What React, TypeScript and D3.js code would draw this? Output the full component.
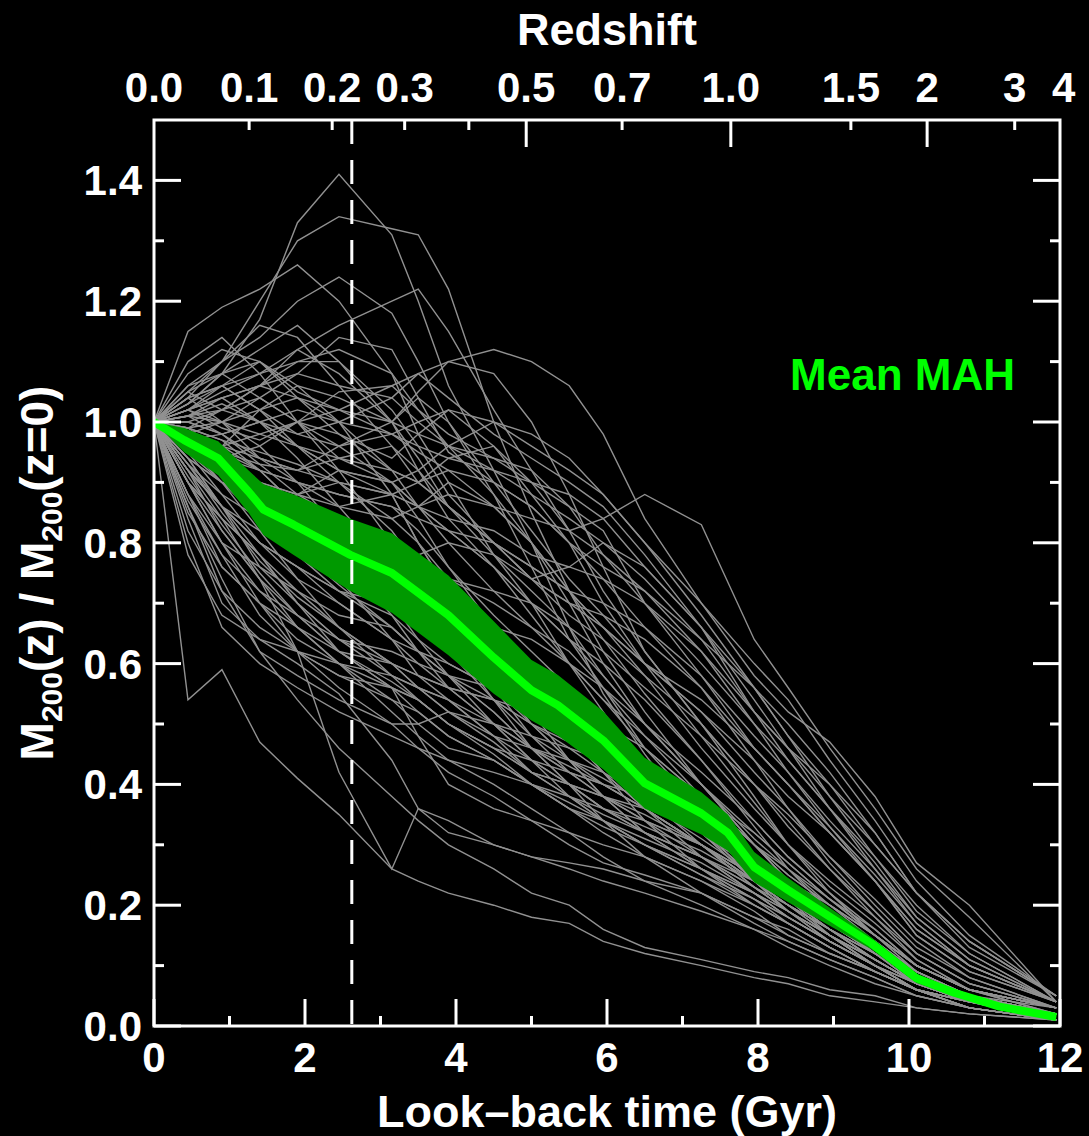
import React, { useEffect } from "react";
import * as d3 from "d3";

// ---------------- data ----------------
// snapshot look-back times (Gyr) shared by the individual halo histories
const snapTimes = [0, 0.45, 0.9, 1.4, 1.9, 2.45, 3.15, 3.5, 3.9, 4.5, 5.0, 5.5, 5.95, 6.5, 7.25, 7.95, 8.4, 8.95, 9.55, 10.1, 10.8, 11.95];

// individual mass accretion histories M200(z)/M200(z=0)
const haloHistories: number[][] = [
  [1.00, 1.03, 1.08, 1.17, 1.33, 1.41, 1.31, 1.20, 1.06, 0.92, 0.80, 0.66, 0.55, 0.45, 0.33, 0.24, 0.19, 0.14, 0.10, 0.07, 0.04, 0.02],
  [1.00, 1.04, 1.10, 1.20, 1.30, 1.34, 1.32, 1.31, 1.22, 1.00, 0.85, 0.72, 0.62, 0.52, 0.40, 0.30, 0.24, 0.18, 0.13, 0.08, 0.05, 0.03],
  [1.00, 1.15, 1.19, 1.22, 1.26, 1.20, 1.08, 0.98, 0.90, 0.78, 0.70, 0.60, 0.52, 0.42, 0.32, 0.24, 0.19, 0.14, 0.10, 0.06, 0.04, 0.02],
  [1.00, 1.06, 1.10, 1.14, 1.20, 1.24, 1.18, 1.10, 1.00, 0.88, 0.76, 0.64, 0.56, 0.46, 0.36, 0.27, 0.21, 0.15, 0.10, 0.07, 0.04, 0.02],
  [1.00, 1.02, 1.05, 1.08, 1.12, 1.16, 1.20, 1.22, 1.15, 1.02, 0.92, 0.82, 0.72, 0.62, 0.50, 0.38, 0.30, 0.22, 0.15, 0.10, 0.06, 0.03],
  [1.00, 1.01, 1.03, 1.00, 0.98, 1.00, 1.04, 1.08, 1.10, 1.12, 1.10, 1.06, 0.98, 0.84, 0.70, 0.58, 0.52, 0.47, 0.38, 0.27, 0.20, 0.04],
  [1.00, 0.97, 0.95, 0.93, 0.92, 0.90, 0.88, 0.86, 0.88, 0.86, 0.84, 0.82, 0.84, 0.88, 0.83, 0.64, 0.56, 0.46, 0.36, 0.26, 0.18, 0.04],
  [1.00, 1.08, 1.12, 1.10, 1.05, 1.02, 0.98, 0.95, 0.92, 0.86, 0.80, 0.72, 0.64, 0.55, 0.44, 0.33, 0.26, 0.19, 0.13, 0.08, 0.05, 0.02],
  [1.00, 1.05, 1.02, 1.06, 1.12, 1.08, 1.00, 1.05, 1.10, 1.08, 1.00, 0.88, 0.76, 0.62, 0.50, 0.40, 0.33, 0.26, 0.19, 0.12, 0.07, 0.03],
  [1.00, 0.98, 1.00, 1.04, 1.08, 1.14, 1.12, 1.04, 0.95, 0.90, 0.86, 0.80, 0.74, 0.66, 0.56, 0.44, 0.36, 0.27, 0.19, 0.12, 0.07, 0.03],
  [1.00, 1.02, 0.99, 0.97, 1.00, 1.05, 1.06, 1.02, 0.98, 0.94, 0.90, 0.86, 0.82, 0.70, 0.58, 0.46, 0.40, 0.32, 0.24, 0.16, 0.10, 0.04],
  [1.00, 1.10, 1.14, 1.08, 1.00, 0.94, 0.90, 0.86, 0.82, 0.76, 0.70, 0.64, 0.58, 0.50, 0.40, 0.30, 0.24, 0.18, 0.12, 0.08, 0.05, 0.02],
  [1.00, 1.03, 1.06, 1.10, 1.04, 0.98, 0.94, 0.98, 1.02, 0.96, 0.88, 0.80, 0.70, 0.60, 0.48, 0.37, 0.30, 0.23, 0.17, 0.11, 0.06, 0.03],
  [1.00, 0.96, 0.94, 0.96, 1.00, 0.98, 0.92, 0.90, 0.94, 0.96, 0.90, 0.82, 0.78, 0.72, 0.62, 0.50, 0.42, 0.33, 0.24, 0.15, 0.09, 0.04],
  [1.00, 1.01, 1.04, 1.06, 1.10, 1.10, 1.02, 0.96, 0.88, 0.80, 0.74, 0.70, 0.66, 0.60, 0.52, 0.42, 0.36, 0.28, 0.20, 0.13, 0.08, 0.03],
  [1.00, 0.98, 0.96, 1.02, 1.06, 1.04, 1.00, 0.94, 0.86, 0.78, 0.74, 0.76, 0.80, 0.76, 0.66, 0.54, 0.46, 0.36, 0.26, 0.17, 0.10, 0.04],
  [1.00, 1.04, 1.00, 0.94, 0.92, 0.96, 1.00, 1.04, 1.00, 0.90, 0.82, 0.74, 0.68, 0.60, 0.52, 0.44, 0.38, 0.32, 0.24, 0.16, 0.10, 0.04],
  [1.00, 0.95, 0.90, 0.86, 0.84, 0.82, 0.78, 0.74, 0.70, 0.64, 0.58, 0.52, 0.46, 0.40, 0.32, 0.24, 0.20, 0.15, 0.10, 0.06, 0.04, 0.02],
  [1.00, 0.97, 0.94, 0.92, 0.90, 0.88, 0.86, 0.82, 0.76, 0.68, 0.62, 0.56, 0.50, 0.44, 0.36, 0.28, 0.22, 0.17, 0.12, 0.07, 0.04, 0.02],
  [1.00, 0.93, 0.88, 0.84, 0.88, 0.92, 0.90, 0.86, 0.82, 0.76, 0.70, 0.64, 0.60, 0.54, 0.44, 0.34, 0.28, 0.22, 0.15, 0.09, 0.05, 0.02],
  [1.00, 0.98, 0.96, 0.94, 0.92, 0.94, 0.96, 0.92, 0.86, 0.80, 0.74, 0.68, 0.64, 0.58, 0.50, 0.40, 0.34, 0.26, 0.18, 0.11, 0.06, 0.03],
  [1.00, 0.94, 0.90, 0.88, 0.86, 0.84, 0.80, 0.78, 0.80, 0.78, 0.72, 0.66, 0.58, 0.50, 0.42, 0.34, 0.28, 0.22, 0.16, 0.10, 0.06, 0.03],
  [1.00, 0.96, 0.92, 0.90, 0.88, 0.90, 0.84, 0.80, 0.74, 0.70, 0.66, 0.62, 0.56, 0.48, 0.38, 0.28, 0.24, 0.18, 0.13, 0.08, 0.05, 0.02],
  [1.00, 1.00, 0.98, 0.94, 0.90, 0.86, 0.84, 0.86, 0.90, 0.86, 0.80, 0.72, 0.66, 0.58, 0.46, 0.36, 0.30, 0.24, 0.18, 0.12, 0.07, 0.03],
  [1.00, 0.92, 0.86, 0.82, 0.80, 0.76, 0.72, 0.70, 0.68, 0.66, 0.64, 0.60, 0.54, 0.46, 0.38, 0.30, 0.24, 0.18, 0.12, 0.07, 0.04, 0.02],
  [1.00, 0.54, 0.59, 0.47, 0.41, 0.35, 0.26, 0.24, 0.22, 0.20, 0.18, 0.17, 0.14, 0.12, 0.10, 0.08, 0.07, 0.05, 0.04, 0.03, 0.02, 0.01],
  [1.00, 0.80, 0.66, 0.60, 0.56, 0.52, 0.48, 0.46, 0.44, 0.40, 0.36, 0.32, 0.28, 0.24, 0.20, 0.16, 0.13, 0.10, 0.07, 0.05, 0.03, 0.01],
  [1.00, 0.86, 0.72, 0.62, 0.58, 0.54, 0.50, 0.50, 0.52, 0.50, 0.46, 0.40, 0.34, 0.28, 0.22, 0.17, 0.14, 0.11, 0.08, 0.05, 0.03, 0.01],
  [1.00, 0.88, 0.78, 0.68, 0.62, 0.58, 0.56, 0.54, 0.50, 0.46, 0.42, 0.38, 0.34, 0.30, 0.25, 0.20, 0.17, 0.13, 0.09, 0.06, 0.03, 0.01],
  [1.00, 0.90, 0.80, 0.72, 0.66, 0.62, 0.60, 0.58, 0.56, 0.54, 0.50, 0.44, 0.38, 0.32, 0.26, 0.21, 0.17, 0.13, 0.09, 0.06, 0.04, 0.02],
  [1.00, 0.84, 0.70, 0.64, 0.60, 0.55, 0.44, 0.36, 0.32, 0.30, 0.28, 0.27, 0.26, 0.24, 0.22, 0.18, 0.16, 0.12, 0.09, 0.06, 0.03, 0.01],
  [1.00, 0.92, 0.82, 0.74, 0.66, 0.60, 0.54, 0.50, 0.46, 0.44, 0.40, 0.38, 0.36, 0.34, 0.30, 0.25, 0.21, 0.16, 0.11, 0.07, 0.04, 0.02],
  [1.00, 0.90, 0.84, 0.78, 0.70, 0.64, 0.58, 0.56, 0.54, 0.48, 0.42, 0.40, 0.38, 0.36, 0.30, 0.24, 0.20, 0.15, 0.10, 0.06, 0.04, 0.02],
  [1.00, 0.94, 0.86, 0.76, 0.72, 0.68, 0.66, 0.62, 0.58, 0.52, 0.46, 0.42, 0.40, 0.36, 0.30, 0.24, 0.20, 0.16, 0.11, 0.07, 0.04, 0.02],
  [1.00, 0.88, 0.76, 0.70, 0.66, 0.60, 0.52, 0.48, 0.44, 0.42, 0.40, 0.36, 0.32, 0.28, 0.24, 0.19, 0.15, 0.12, 0.09, 0.06, 0.03, 0.01],
  [1.00, 0.95, 0.88, 0.80, 0.74, 0.70, 0.64, 0.62, 0.60, 0.56, 0.52, 0.48, 0.44, 0.40, 0.34, 0.27, 0.22, 0.17, 0.12, 0.08, 0.05, 0.02],
  [1.00, 0.93, 0.86, 0.80, 0.76, 0.72, 0.70, 0.68, 0.64, 0.58, 0.54, 0.50, 0.44, 0.38, 0.30, 0.23, 0.19, 0.15, 0.11, 0.07, 0.04, 0.02],
  [1.00, 0.90, 0.82, 0.74, 0.68, 0.62, 0.56, 0.48, 0.40, 0.36, 0.34, 0.32, 0.30, 0.28, 0.24, 0.20, 0.17, 0.13, 0.09, 0.06, 0.03, 0.01],
  [1.00, 0.86, 0.74, 0.62, 0.54, 0.46, 0.38, 0.34, 0.30, 0.26, 0.22, 0.20, 0.16, 0.13, 0.11, 0.09, 0.08, 0.06, 0.05, 0.03, 0.02, 0.01],
  [1.00, 0.92, 0.84, 0.74, 0.62, 0.42, 0.26, 0.36, 0.34, 0.30, 0.28, 0.26, 0.24, 0.22, 0.19, 0.16, 0.14, 0.11, 0.08, 0.05, 0.03, 0.01],
  [1.00, 0.96, 0.90, 0.84, 0.78, 0.72, 0.66, 0.62, 0.58, 0.52, 0.46, 0.42, 0.38, 0.34, 0.28, 0.22, 0.18, 0.14, 0.10, 0.06, 0.04, 0.02],
  [1.00, 0.98, 0.94, 0.88, 0.82, 0.76, 0.70, 0.66, 0.62, 0.56, 0.50, 0.44, 0.40, 0.36, 0.30, 0.24, 0.20, 0.16, 0.12, 0.08, 0.05, 0.02],
  [1.00, 0.99, 0.97, 0.92, 0.86, 0.80, 0.74, 0.68, 0.62, 0.54, 0.48, 0.44, 0.42, 0.38, 0.32, 0.26, 0.22, 0.18, 0.14, 0.09, 0.05, 0.02],
  [1.00, 1.02, 1.00, 0.96, 0.90, 0.82, 0.74, 0.70, 0.66, 0.60, 0.54, 0.48, 0.44, 0.40, 0.34, 0.28, 0.24, 0.19, 0.14, 0.09, 0.05, 0.02],
  [1.00, 1.04, 1.06, 1.02, 0.96, 0.90, 0.82, 0.76, 0.68, 0.58, 0.50, 0.46, 0.42, 0.36, 0.30, 0.24, 0.20, 0.16, 0.12, 0.08, 0.05, 0.02],
  [1.00, 1.06, 1.08, 1.04, 1.00, 0.96, 0.90, 0.84, 0.76, 0.66, 0.56, 0.48, 0.42, 0.34, 0.26, 0.20, 0.17, 0.13, 0.09, 0.06, 0.03, 0.01],
  [1.00, 1.01, 1.02, 1.00, 0.96, 0.92, 0.88, 0.80, 0.72, 0.62, 0.52, 0.44, 0.38, 0.32, 0.26, 0.21, 0.18, 0.14, 0.10, 0.06, 0.04, 0.02],
  [1.00, 0.99, 1.00, 1.02, 1.04, 1.00, 0.92, 0.86, 0.80, 0.72, 0.66, 0.60, 0.56, 0.50, 0.40, 0.30, 0.25, 0.20, 0.15, 0.10, 0.06, 0.03],
  [1.00, 1.03, 1.08, 1.12, 1.16, 1.10, 1.00, 0.92, 0.84, 0.76, 0.68, 0.60, 0.54, 0.48, 0.40, 0.32, 0.27, 0.21, 0.15, 0.10, 0.06, 0.03],
  [1.00, 1.05, 1.10, 1.16, 1.14, 1.06, 0.96, 0.90, 0.86, 0.80, 0.74, 0.70, 0.68, 0.64, 0.56, 0.46, 0.40, 0.32, 0.24, 0.15, 0.09, 0.04],
  [1.00, 1.00, 0.98, 1.00, 1.02, 1.00, 0.98, 0.96, 0.94, 0.92, 0.90, 0.88, 0.84, 0.76, 0.66, 0.56, 0.48, 0.40, 0.30, 0.22, 0.14, 0.05],
  [1.00, 0.98, 0.96, 0.98, 1.00, 1.02, 1.00, 0.98, 0.96, 0.94, 0.92, 0.86, 0.78, 0.70, 0.60, 0.50, 0.44, 0.36, 0.28, 0.20, 0.12, 0.04],
  [1.00, 1.02, 1.04, 1.06, 1.08, 1.06, 1.04, 1.00, 0.96, 0.92, 0.88, 0.84, 0.80, 0.74, 0.64, 0.52, 0.46, 0.40, 0.32, 0.22, 0.13, 0.05],
  [1.00, 0.97, 0.95, 0.92, 0.90, 0.88, 0.86, 0.84, 0.82, 0.80, 0.76, 0.72, 0.70, 0.66, 0.58, 0.48, 0.42, 0.34, 0.26, 0.18, 0.11, 0.04],
  [1.00, 0.99, 0.97, 0.95, 0.93, 0.90, 0.88, 0.86, 0.84, 0.82, 0.78, 0.76, 0.74, 0.70, 0.62, 0.52, 0.46, 0.38, 0.30, 0.22, 0.14, 0.05],
  [1.00, 1.01, 1.00, 0.98, 0.96, 0.94, 0.92, 0.90, 0.86, 0.80, 0.76, 0.72, 0.66, 0.60, 0.54, 0.46, 0.40, 0.33, 0.25, 0.17, 0.10, 0.04],
  [1.00, 0.90, 0.80, 0.70, 0.62, 0.56, 0.50, 0.46, 0.42, 0.38, 0.34, 0.30, 0.27, 0.25, 0.22, 0.18, 0.15, 0.12, 0.09, 0.06, 0.03, 0.01],
  [1.00, 0.94, 0.86, 0.78, 0.70, 0.62, 0.56, 0.52, 0.48, 0.44, 0.40, 0.36, 0.34, 0.30, 0.26, 0.22, 0.19, 0.15, 0.11, 0.07, 0.04, 0.02],
  [1.00, 0.96, 0.90, 0.82, 0.74, 0.66, 0.58, 0.54, 0.50, 0.46, 0.44, 0.42, 0.40, 0.38, 0.32, 0.25, 0.21, 0.16, 0.11, 0.07, 0.04, 0.02],
  [1.00, 0.97, 0.94, 0.90, 0.84, 0.78, 0.70, 0.64, 0.58, 0.50, 0.44, 0.38, 0.34, 0.30, 0.26, 0.22, 0.19, 0.15, 0.11, 0.07, 0.04, 0.02],
  [1.00, 0.82, 0.72, 0.66, 0.62, 0.58, 0.54, 0.52, 0.48, 0.44, 0.40, 0.37, 0.34, 0.31, 0.27, 0.22, 0.18, 0.14, 0.10, 0.06, 0.03, 0.01],
  [1.00, 0.85, 0.76, 0.70, 0.64, 0.60, 0.58, 0.56, 0.54, 0.50, 0.46, 0.43, 0.40, 0.36, 0.30, 0.23, 0.19, 0.15, 0.10, 0.06, 0.04, 0.02],
  [1.00, 0.78, 0.68, 0.64, 0.62, 0.60, 0.56, 0.54, 0.50, 0.46, 0.42, 0.40, 0.38, 0.35, 0.30, 0.25, 0.21, 0.16, 0.11, 0.07, 0.04, 0.01],
  [1.00, 0.88, 0.80, 0.76, 0.70, 0.64, 0.60, 0.56, 0.52, 0.48, 0.46, 0.44, 0.41, 0.37, 0.31, 0.25, 0.21, 0.17, 0.12, 0.08, 0.04, 0.02],
  [1.00, 0.92, 0.86, 0.80, 0.76, 0.70, 0.64, 0.60, 0.56, 0.50, 0.48, 0.46, 0.44, 0.40, 0.34, 0.26, 0.22, 0.17, 0.12, 0.07, 0.04, 0.02],
  [1.00, 0.95, 0.92, 0.88, 0.82, 0.74, 0.64, 0.58, 0.54, 0.48, 0.44, 0.40, 0.36, 0.32, 0.28, 0.23, 0.19, 0.15, 0.11, 0.07, 0.04, 0.02],
  [1.00, 0.98, 0.96, 0.92, 0.86, 0.78, 0.68, 0.62, 0.56, 0.50, 0.44, 0.40, 0.36, 0.33, 0.29, 0.24, 0.21, 0.17, 0.12, 0.08, 0.05, 0.02],
  [1.00, 1.02, 1.04, 1.00, 0.94, 0.86, 0.76, 0.70, 0.64, 0.56, 0.48, 0.42, 0.38, 0.34, 0.30, 0.25, 0.22, 0.18, 0.13, 0.09, 0.05, 0.02],
  [1.00, 1.00, 1.02, 1.04, 1.00, 0.92, 0.80, 0.72, 0.64, 0.54, 0.46, 0.40, 0.36, 0.32, 0.28, 0.23, 0.20, 0.16, 0.12, 0.08, 0.05, 0.02],
  [1.00, 1.05, 1.08, 1.10, 1.06, 1.00, 0.88, 0.80, 0.72, 0.62, 0.54, 0.48, 0.44, 0.40, 0.34, 0.28, 0.24, 0.20, 0.15, 0.10, 0.06, 0.03],
  [1.00, 1.02, 1.06, 1.08, 1.10, 1.12, 1.08, 1.02, 0.96, 0.88, 0.80, 0.70, 0.60, 0.50, 0.40, 0.31, 0.26, 0.20, 0.14, 0.09, 0.05, 0.02],
  [1.00, 0.99, 1.02, 1.06, 1.04, 1.02, 1.06, 1.08, 1.04, 0.98, 0.94, 0.90, 0.86, 0.78, 0.66, 0.52, 0.44, 0.36, 0.27, 0.18, 0.11, 0.04],
  [1.00, 1.04, 1.06, 1.02, 0.98, 0.96, 0.98, 1.00, 1.02, 1.00, 0.96, 0.92, 0.88, 0.80, 0.68, 0.56, 0.48, 0.38, 0.28, 0.19, 0.12, 0.04],
  [1.00, 0.97, 0.98, 1.00, 0.96, 0.92, 0.90, 0.92, 0.96, 1.00, 0.98, 0.94, 0.88, 0.80, 0.70, 0.60, 0.54, 0.44, 0.34, 0.24, 0.15, 0.05],
  [1.00, 0.96, 0.94, 0.90, 0.88, 0.86, 0.88, 0.90, 0.92, 0.90, 0.86, 0.80, 0.76, 0.72, 0.64, 0.56, 0.50, 0.42, 0.32, 0.22, 0.14, 0.05],
  [1.00, 0.94, 0.90, 0.86, 0.82, 0.80, 0.78, 0.76, 0.74, 0.72, 0.70, 0.66, 0.62, 0.56, 0.48, 0.40, 0.35, 0.28, 0.21, 0.14, 0.08, 0.03],
  [1.00, 0.92, 0.86, 0.80, 0.76, 0.72, 0.68, 0.64, 0.60, 0.56, 0.52, 0.48, 0.46, 0.44, 0.38, 0.32, 0.27, 0.21, 0.15, 0.10, 0.06, 0.02],
  [1.00, 0.90, 0.84, 0.78, 0.72, 0.66, 0.60, 0.58, 0.56, 0.54, 0.52, 0.50, 0.48, 0.44, 0.36, 0.28, 0.24, 0.19, 0.14, 0.09, 0.05, 0.02],
  [1.00, 0.96, 0.91, 0.85, 0.79, 0.73, 0.66, 0.62, 0.58, 0.54, 0.50, 0.47, 0.44, 0.42, 0.38, 0.30, 0.25, 0.20, 0.15, 0.10, 0.06, 0.02],
  [1.00, 0.99, 0.95, 0.90, 0.84, 0.78, 0.72, 0.68, 0.64, 0.58, 0.54, 0.50, 0.48, 0.44, 0.36, 0.27, 0.23, 0.18, 0.13, 0.08, 0.05, 0.02],
  [1.00, 0.87, 0.78, 0.72, 0.68, 0.64, 0.62, 0.60, 0.58, 0.56, 0.52, 0.48, 0.42, 0.36, 0.28, 0.22, 0.18, 0.14, 0.10, 0.06, 0.04, 0.01],
  [1.00, 0.93, 0.85, 0.77, 0.71, 0.66, 0.60, 0.56, 0.52, 0.47, 0.42, 0.38, 0.35, 0.32, 0.28, 0.24, 0.21, 0.17, 0.13, 0.08, 0.05, 0.02],
  [1.00, 0.97, 0.93, 0.88, 0.83, 0.78, 0.73, 0.70, 0.66, 0.60, 0.54, 0.48, 0.43, 0.38, 0.32, 0.26, 0.22, 0.18, 0.13, 0.08, 0.05, 0.02],
  [1.00, 1.01, 0.98, 0.93, 0.88, 0.84, 0.80, 0.77, 0.73, 0.66, 0.60, 0.54, 0.50, 0.46, 0.38, 0.30, 0.26, 0.21, 0.16, 0.10, 0.06, 0.03],
  [1.00, 0.91, 0.83, 0.75, 0.68, 0.62, 0.57, 0.54, 0.50, 0.45, 0.40, 0.36, 0.33, 0.30, 0.25, 0.21, 0.18, 0.14, 0.10, 0.07, 0.04, 0.01],
];

// mean MAH and its scatter band (half width)
const meanTimes = [0, 0.4, 0.85, 1.25, 1.45, 1.85, 2.6, 3.15, 3.9, 4.5, 5.0, 5.35, 5.95, 6.5, 7.25, 7.6, 7.95, 8.4, 9.5, 10.1, 10.6, 11.2, 11.95];
const meanValues = [1.0, 0.97, 0.94, 0.885, 0.855, 0.83, 0.78, 0.75, 0.68, 0.61, 0.556, 0.531, 0.473, 0.402, 0.352, 0.32, 0.263, 0.225, 0.137, 0.079, 0.055, 0.032, 0.015];
const meanErr = [0.0, 0.02, 0.028, 0.035, 0.042, 0.05, 0.06, 0.066, 0.066, 0.06, 0.05, 0.05, 0.048, 0.042, 0.035, 0.03, 0.025, 0.02, 0.01, 0.008, 0.006, 0.004, 0.003];

// axes
const xMajorTicks = [0, 2, 4, 6, 8, 10, 12];
const xMinorTicks = [1, 3, 5, 7, 9, 11];
const yMajorTicks = [0, 0.2, 0.4, 0.6, 0.8, 1.0, 1.2, 1.4];
const yMinorTicks = [0.1, 0.3, 0.5, 0.7, 0.9, 1.1, 1.3];
// redshift axis (top): look-back time of each tick
const zTickTimes = [1.26, 2.36, 3.32, 4.17, 4.93, 6.2, 7.64, 9.23, 10.24, 11.4];
const zTickMajor = [false, false, false, false, true, false, true, false, true, false];
const zLabels = ["0.0", "0.1", "0.2", "0.3", "0.5", "0.7", "1.0", "1.5", "2", "3", "4"];
const zLabelTimes = [0, 1.26, 2.36, 3.32, 4.93, 6.2, 7.64, 9.23, 10.24, 11.4, 12.05];
const markerTime = 2.62;

// ---------------- chart ----------------
const W = 1089;
const H = 1136;
const x = d3.scaleLinear().domain([0, 12]).range([154, 1060]);
const y = d3.scaleLinear().domain([0, 1.5]).range([1026, 120]);
const FONT = "'Liberation Sans', Arial, Helvetica, sans-serif";

export default function App() {
  useEffect(() => {
    document.body.style.margin = "0";
    document.body.style.background = "#000";
  }, []);

  const line = d3.line<number>().x((_, i) => x(snapTimes[i])).y((d) => y(d));
  const meanLine = d3.line<number>().x((_, i) => x(meanTimes[i])).y((d) => y(d));
  const band = d3
    .area<number>()
    .x((_, i) => x(meanTimes[i]))
    .y0((d, i) => y(d - meanErr[i]))
    .y1((d, i) => y(d + meanErr[i]));

  const x0 = x(0), x1 = x(12), yb = y(0), yt = y(1.5);
  const LMaj = 27, LMin = 10, SW = 3;

  return (
    <svg width={W} height={H} style={{ position: "absolute", left: 0, top: 0, background: "#000", display: "block" }}
      fontFamily={FONT} fontWeight="bold">
      <rect x={0} y={0} width={W} height={H} fill="#000" />
      <defs>
        <clipPath id="plot"><rect x={x0} y={yt} width={x1 - x0} height={yb - yt} /></clipPath>
      </defs>
      <g clipPath="url(#plot)">
        {haloHistories.map((h, i) => (
          <path key={i} d={line(h) || ""} fill="none" stroke="#919191" strokeWidth={1.4} strokeLinejoin="miter" />
        ))}
        <path d={band(meanValues) || ""} fill="#009900" />
        <path d={meanLine(meanValues) || ""} fill="none" stroke="#00ff00" strokeWidth={8} strokeLinejoin="round" />
        <line x1={x(markerTime)} x2={x(markerTime)} y1={yt} y2={yb} stroke="#fff" strokeWidth={3} strokeDasharray="24 16" />
      </g>

      {/* frame */}
      <rect x={x0} y={yt} width={x1 - x0} height={yb - yt} fill="none" stroke="#fff" strokeWidth={SW} />

      {/* bottom / top x ticks */}
      {xMajorTicks.map((t) => (
        <line key={"xb" + t} x1={x(t)} x2={x(t)} y1={yb} y2={yb - LMaj} stroke="#fff" strokeWidth={SW} />
      ))}
      {xMinorTicks.map((t) => (
        <line key={"xm" + t} x1={x(t)} x2={x(t)} y1={yb} y2={yb - LMin} stroke="#fff" strokeWidth={SW} />
      ))}
      {zTickTimes.map((t, i) => (
        <line key={"zt" + i} x1={x(t)} x2={x(t)} y1={yt} y2={yt + (zTickMajor[i] ? LMaj : LMin)} stroke="#fff" strokeWidth={SW} />
      ))}

      {/* y ticks left & right */}
      {yMajorTicks.map((v) => (
        <g key={"ym" + v}>
          <line x1={x0} x2={x0 + LMaj} y1={y(v)} y2={y(v)} stroke="#fff" strokeWidth={SW} />
          <line x1={x1} x2={x1 - LMaj} y1={y(v)} y2={y(v)} stroke="#fff" strokeWidth={SW} />
        </g>
      ))}
      {yMinorTicks.map((v) => (
        <g key={"yn" + v}>
          <line x1={x0} x2={x0 + LMin} y1={y(v)} y2={y(v)} stroke="#fff" strokeWidth={SW} />
          <line x1={x1} x2={x1 - LMin} y1={y(v)} y2={y(v)} stroke="#fff" strokeWidth={SW} />
        </g>
      ))}

      {/* tick labels */}
      {yMajorTicks.map((v) => (
        <text key={"yl" + v} x={x0 - 12} y={y(v) + 15} fill="#fff" fontSize={42} textAnchor="end">{v.toFixed(1)}</text>
      ))}
      {xMajorTicks.map((t) => (
        <text key={"xl" + t} x={x(t)} y={1072} fill="#fff" fontSize={42} textAnchor="middle">{t}</text>
      ))}
      {zLabels.map((s, i) => (
        <text key={"zl" + i} x={x(zLabelTimes[i])} y={102} fill="#fff" fontSize={42} textAnchor="middle">{s}</text>
      ))}

      {/* titles */}
      <text x={(x0 + x1) / 2} y={45} fill="#fff" fontSize={45} textAnchor="middle">Redshift</text>
      <text x={(x0 + x1) / 2} y={1127} fill="#fff" fontSize={45} textAnchor="middle">Look–back time (Gyr)</text>
      <text transform={`translate(53, ${(yt + yb) / 2}) rotate(-90)`} fill="#fff" fontSize={46} textAnchor="middle">
        <tspan>M</tspan>
        <tspan fontSize={30} dy={9}>200</tspan>
        <tspan dy={-9}>(z) / M</tspan>
        <tspan fontSize={30} dy={9}>200</tspan>
        <tspan dy={-9}>(z=0)</tspan>
      </text>

      <text x={1015} y={390} fill="#00ff00" fontSize={44} textAnchor="end">Mean MAH</text>
    </svg>
  );
}
